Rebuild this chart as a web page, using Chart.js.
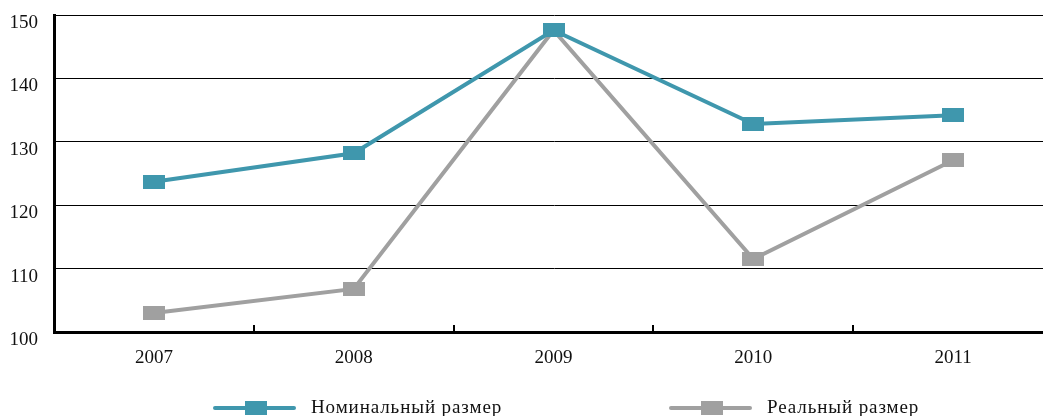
<!DOCTYPE html>
<html>
<head>
<meta charset="utf-8">
<script src="https://cdn.jsdelivr.net/npm/chart.js@4"></script>
<style>
    html, body { margin: 0; padding: 0; background: #fff; overflow: hidden; }
    body { width: 1043px; height: 416px; position: relative; }
    #chart { position: absolute; left: 0; top: 0; }
    .lg-swatch { position: absolute; width: 83px; height: 14px; }
    .lg-line { position: absolute; left: 0; right: 0; top: 5px; height: 4px; border-radius: 2px; }
    .lg-mark { position: absolute; left: 32px; top: 0; width: 22px; height: 14px; }
    .lg-text { position: absolute; font-family: 'Liberation Serif', serif; font-size: 19px; line-height: 19px; letter-spacing: 0.9px; color: #111; white-space: nowrap; }
</style>
</head>
<body>
<canvas id="chart" width="1064" height="416"></canvas>
<div id="legend"></div>
<script>
const years = ['2007', '2008', '2009', '2010', '2011'];
const nominal = [123.7, 128.2, 147.6, 132.8, 134.2]; // Номинальный размер
const real = [103.0, 106.8, 147.6, 111.5, 127.1]; // Реальный размер
const yMin = 100;
const yMax = 150;
const yStep = 10;
const seriesNames = ['Номинальный размер', 'Реальный размер'];
const seriesColors = ['#3f97ad', '#a0a0a0'];

Chart.defaults.font.family = "'Liberation Serif', serif";

// rectangular marker (wider than tall), used as point style
function makeMarker(color) {
    const c = document.createElement('canvas');
    c.width = 22;
    c.height = 14;
    const g = c.getContext('2d');
    g.fillStyle = color;
    g.fillRect(0, 0, 22, 14);
    return c;
}

// small tick marks between categories, pointing up into the plot
const innerTicks = {
    id: 'innerTicks',
    afterDatasetsDraw(chart) {
        const x = chart.scales.x;
        const ctx = chart.ctx;
        const bottom = chart.chartArea.bottom;
        ctx.save();
        ctx.strokeStyle = '#000';
        ctx.lineWidth = 2;
        for (let i = 1; i < years.length; i++) {
            const px = Math.round((x.getPixelForValue(i - 1) + x.getPixelForValue(i)) / 2);
            ctx.beginPath();
            ctx.moveTo(px, bottom);
            ctx.lineTo(px, bottom - 7);
            ctx.stroke();
        }
        ctx.restore();
    },
};

function makeDataset(label, data, color) {
    return {
        label: label,
        data: data,
        borderColor: color,
        backgroundColor: color,
        borderWidth: 4,
        tension: 0,
        pointStyle: makeMarker(color),
        pointRadius: 7,
        pointHoverRadius: 7,
    };
}

// keep the plot box fixed, no extra room for overhanging labels
function noPad(s) {
    s.paddingTop = 0;
    s.paddingBottom = 0;
    s.paddingLeft = 0;
    s.paddingRight = 0;
}

new Chart(document.getElementById('chart'), {
    type: 'line',
    data: {
        labels: years,
        datasets: [
            makeDataset(seriesNames[0], nominal, seriesColors[0]),
            makeDataset(seriesNames[1], real, seriesColors[1]),
        ],
    },
    options: {
        responsive: false,
        animation: false,
        layout: { padding: { top: 15, right: 2, left: 0, bottom: 44 } },
        plugins: {
            legend: { display: false },
            tooltip: { enabled: false },
        },
        scales: {
            x: {
                offset: true,
                grid: { display: false },
                border: { display: true, color: '#000', width: 3 },
                ticks: { color: '#111', font: { size: 19 }, padding: 7 },
                afterFit(s) { s.height = 40; noPad(s); },
            },
            y: {
                min: yMin,
                max: yMax,
                grid: { color: '#000', lineWidth: 1, drawTicks: false },
                border: { display: true, color: '#000', width: 3 },
                ticks: { stepSize: yStep, color: '#111', font: { size: 19 }, padding: 16, labelOffset: 8 },
                afterFit(s) { s.width = 54; noPad(s); },
            },
        },
    },
    plugins: [innerTicks],
});

// legend below the chart
const legendPos = [213, 669];
const legend = document.getElementById('legend');
seriesNames.forEach((name, i) => {
    const sw = document.createElement('div');
    sw.className = 'lg-swatch';
    sw.style.left = legendPos[i] + 'px';
    sw.style.top = '401px';
    sw.innerHTML = '<div class="lg-line" style="background:' + seriesColors[i] + '"></div>' +
        '<div class="lg-mark" style="background:' + seriesColors[i] + '"></div>';
    legend.appendChild(sw);
    const tx = document.createElement('span');
    tx.className = 'lg-text';
    tx.style.left = (legendPos[i] + 98) + 'px';
    tx.style.top = '397px';
    tx.textContent = name;
    legend.appendChild(tx);
});
</script>
</body>
</html>
